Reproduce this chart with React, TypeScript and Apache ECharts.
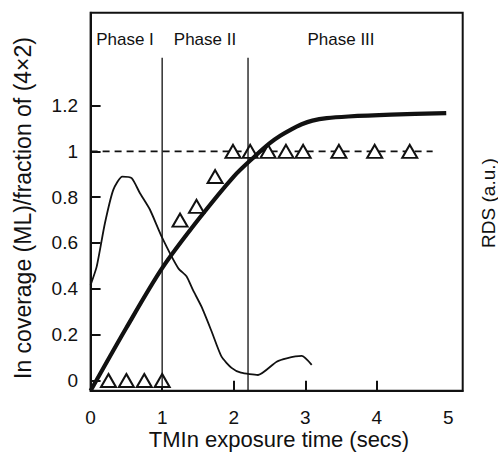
import React, { useEffect, useRef } from "react";
import * as echarts from "echarts";

const xTickLabels = [0, 1, 2, 3, 4, 5];
const xTicks = [1, 2, 3, 4];
const yTickLabels = [0, 0.2, 0.4, 0.6, 0.8, 1, 1.2];

// In coverage (ML) — thick curve
const coverage: [number, number][] = [
  [0, -0.045], [0.5, 0.23], [1, 0.49], [1.5, 0.70], [2, 0.89], [2.3, 0.98],
  [2.5, 1.035], [2.65, 1.068], [2.8, 1.095], [2.95, 1.118], [3.1, 1.134],
  [3.3, 1.145], [3.6, 1.152], [4.2, 1.16], [4.97, 1.167],
];

// RDS (a.u.) — thin curve
const rds: [number, number][] = [
  [0, 0.417], [0.085, 0.497], [0.2, 0.686], [0.317, 0.832], [0.443, 0.89],
  [0.574, 0.883], [0.69, 0.817], [0.83, 0.745], [0.993, 0.628], [1.225, 0.49],
  [1.34, 0.455], [1.43, 0.395], [1.55, 0.322], [1.69, 0.215], [1.83, 0.104],
  [1.97, 0.055], [2.1, 0.034], [2.34, 0.024], [2.6, 0.082], [2.74, 0.097],
  [2.95, 0.107], [3.09, 0.068],
];

// fraction of (4×2) — triangles
const fraction: [number, number][] = [
  [0.25, 0], [0.5, 0], [0.75, 0], [1.0, 0],
  [1.25, 0.70], [1.48, 0.76], [1.74, 0.89], [1.99, 1.0], [2.23, 1.0],
  [2.48, 1.0], [2.73, 1.0], [2.97, 1.0], [3.47, 1.0], [3.97, 1.0], [4.46, 1.0],
];

const saturation: [number, number][] = [[0, 1], [4.78, 1]];
const phaseBounds = [1, 2.2];
const phaseTop = 1.408;
const phaseLabels = [
  { text: "Phase I", x: 125 },
  { text: "Phase II", x: 205 },
  { text: "Phase III", x: 341 },
];

const FONT = "'Liberation Sans', Arial, Helvetica, sans-serif";
const Y_MIN = -0.045;
const Y_MAX = 1.605;

export default function App() {
  const ref = useRef<HTMLDivElement>(null);
  useEffect(() => {
    if (!ref.current) return;
    const chart = echarts.init(ref.current, null, { renderer: "svg" });
    const black = "#111";
    const option: any = {
      animation: false,
      backgroundColor: "#fff",
      grid: {
        left: 90.6, top: 12.7, right: 35.3, bottom: 66.2,
        show: true, borderColor: black, borderWidth: 2, backgroundColor: "transparent",
      },
      xAxis: {
        type: "value", min: 0, max: 5.2,
        axisLine: { show: true, onZero: false, lineStyle: { color: black, width: 2 } },
        axisTick: { show: true, inside: true, length: 10, lineStyle: { color: black, width: 2 }, customValues: xTicks },
        axisLabel: { show: true, customValues: xTickLabels, margin: 17, color: black, fontSize: 19, fontFamily: FONT, formatter: (v: number) => String(v) },
        splitLine: { show: false },
      },
      yAxis: {
        type: "value", min: Y_MIN, max: Y_MAX,
        axisLine: { show: true, onZero: false, lineStyle: { color: black, width: 2 } },
        axisTick: { show: true, inside: true, length: 10, lineStyle: { color: black, width: 2 }, customValues: yTickLabels },
        axisLabel: { show: true, customValues: yTickLabels, margin: 12.6, color: black, fontSize: 19, fontFamily: FONT, formatter: (v: number) => String(Math.round(v * 10) / 10) },
        splitLine: { show: false },
      },
      series: [
        {
          type: "line", data: saturation, showSymbol: false, symbol: "none", z: 1,
          lineStyle: { color: black, width: 1.6, type: [7, 5] },
        },
        {
          type: "scatter", data: fraction, symbol: "triangle", symbolSize: [15, 13], z: 2,
          itemStyle: { color: "#fff", borderColor: black, borderWidth: 2, opacity: 1 },
        },
        ...phaseBounds.map((b) => ({
          type: "line", data: [[b, Y_MIN], [b, phaseTop]], symbol: "none", z: 3,
          lineStyle: { color: black, width: 1.3 },
        })),
        {
          type: "line", data: rds, symbol: "none", smooth: 0.2, z: 3,
          lineStyle: { color: black, width: 1.8 },
        },
        {
          type: "line", data: coverage, symbol: "none", smooth: 0.3, z: 4,
          lineStyle: { color: black, width: 4.2 },
        },
      ],
      graphic: [
        ...phaseLabels.map((p) => ({
          type: "text", x: p.x, y: 39.5,
          style: { text: p.text, fill: black, font: `17px ${FONT}`, textAlign: "center", textVerticalAlign: "middle" },
        })),
        {
          type: "text", x: 22.5, y: 208, rotation: Math.PI / 2,
          style: { text: "In coverage (ML)/fraction of (4×2)", fill: black, font: `23px ${FONT}`, textAlign: "center", textVerticalAlign: "middle" },
        },
        {
          type: "text", x: 279, y: 439,
          style: { text: "TMIn exposure time (secs)", fill: black, font: `22px ${FONT}`, textAlign: "center", textVerticalAlign: "middle" },
        },
        {
          type: "text", x: 488, y: 203, rotation: Math.PI / 2,
          style: { text: "RDS (a.u.)", fill: black, font: `19px ${FONT}`, textAlign: "center", textVerticalAlign: "middle" },
        },
      ],
    };
    chart.setOption(option);
    return () => chart.dispose();
  }, []);
  return <div ref={ref} style={{ position: "fixed", left: 0, top: 0, width: 498, height: 457 }} />;
}
